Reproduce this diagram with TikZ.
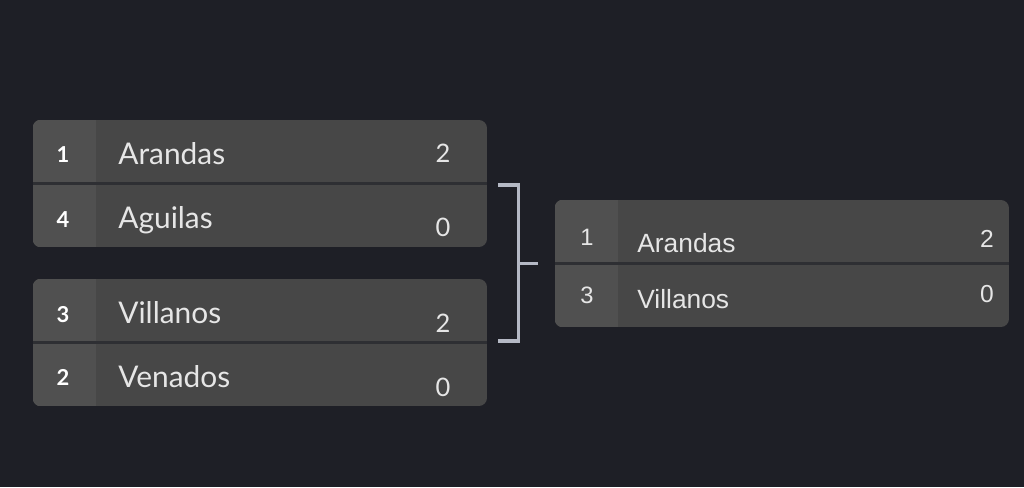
\documentclass[tikz,border=0pt]{standalone}
\usepackage{fontspec}
\setsansfont{Lato}
\newfontfamily\arialfont{Liberation Sans}
\usetikzlibrary{positioning}
\definecolor{bgdark}{HTML}{1E1F26}
\definecolor{cellgray}{HTML}{474747}
\definecolor{seedgray}{HTML}{505050}
\definecolor{linegray}{HTML}{2E2F33}
\definecolor{bracketgray}{HTML}{B5B9C5}
\definecolor{textwhite}{HTML}{E6E6E6}
\tikzstyle{matchbox}=[rectangle,fill=cellgray,rounded corners=0.16cm,minimum width=9.08cm,minimum height=2.54cm,inner sep=0pt]
\tikzstyle{divider} = [draw,line width=1.2pt,color=linegray]
\tikzstyle{bracket} = [draw,line width=1.8pt,color=bracketgray]
\tikzstyle{seed}=[anchor=base,inner sep=0pt,text=white,font=\sffamily\bfseries\fontsize{12.5}{14}\selectfont]
\tikzstyle{team}=[anchor=base west,inner sep=0pt,text=textwhite,font=\sffamily\fontsize{17}{19}\selectfont]
\tikzstyle{score}=[anchor=base,inner sep=0pt,text=textwhite,font=\sffamily\fontsize{14.5}{16}\selectfont]
\tikzstyle{finalseed}=[anchor=base,inner sep=0pt,text=textwhite,font=\arialfont\fontsize{13.5}{15}\selectfont]
\tikzstyle{finalteam}=[anchor=base west,inner sep=0pt,text=textwhite,font=\arialfont\fontsize{15}{17}\selectfont]
\tikzstyle{finalscore}=[anchor=base,inner sep=0pt,text=textwhite,font=\arialfont\fontsize{14}{16}\selectfont]

\begin{document}
\begin{tikzpicture}[x=0.02cm,y=-0.02cm]
    % background
    \fill[bgdark] (0,0) rectangle (1024,487);
    \useasboundingbox (0,0) rectangle (1024,487);

    % First we draw the match boxes
    \foreach \pos/\name in {{(260,183.5)/m1}, {(260,342.5)/m2}, {(782,263.5)/m3}}
        \node[matchbox] (\name) at \pos {};

    % seed column and row divider in every box
    \foreach \name in {m1,m2,m3} {
        \begin{scope}
            \clip[rounded corners=0.16cm] (\name.north west) rectangle (\name.south east);
            \fill[seedgray] (\name.north west) rectangle ([xshift=1.27cm]\name.south west);
        \end{scope}
        \path[divider] (\name.west) -- (\name.east);
    }

    % semifinals
    \foreach \x/\y/\txt/\id in {63/162/1/s1, 63/227/4/s2, 63/322/3/s3, 63/385/2/s4}
        \node[seed] (\id) at (\x,\y) {\txt};
    \foreach \x/\y/\txt/\id in {118/164/Arandas/t1, 118/228/Aguilas/t2, 118/323/Villanos/t3, 118/387/Venados/t4}
        \node[team] (\id) at (\x,\y) {\txt};
    \foreach \x/\y/\txt/\id in {443/162/2/p1, 443/236/0/p2, 443/332/2/p3, 443/396/0/p4}
        \node[score] (\id) at (\x,\y) {\txt};

    % final
    \foreach \x/\y/\txt/\id in {587/245/1/fs1, 587/303/3/fs2}
        \node[finalseed] (\id) at (\x,\y) {\txt};
    \foreach \x/\y/\txt/\id in {637/252/Arandas/ft1, 637/308/Villanos/ft2}
        \node[finalteam] (\id) at (\x,\y) {\txt};
    \foreach \x/\y/\txt/\id in {987/247/2/fp1, 987/302/0/fp2}
        \node[finalscore] (\id) at (\x,\y) {\txt};

    % bracket between the rounds
    \path[bracket] ([shift={(0.22cm,-0.03cm)}]m1.east) -- ++(20,0) |- ([shift={(0.22cm,0.03cm)}]m2.east);
    \path[bracket] ([xshift=0.62cm]m1.east |- m3.west) -- ++(20,0);
\end{tikzpicture}
\end{document}
